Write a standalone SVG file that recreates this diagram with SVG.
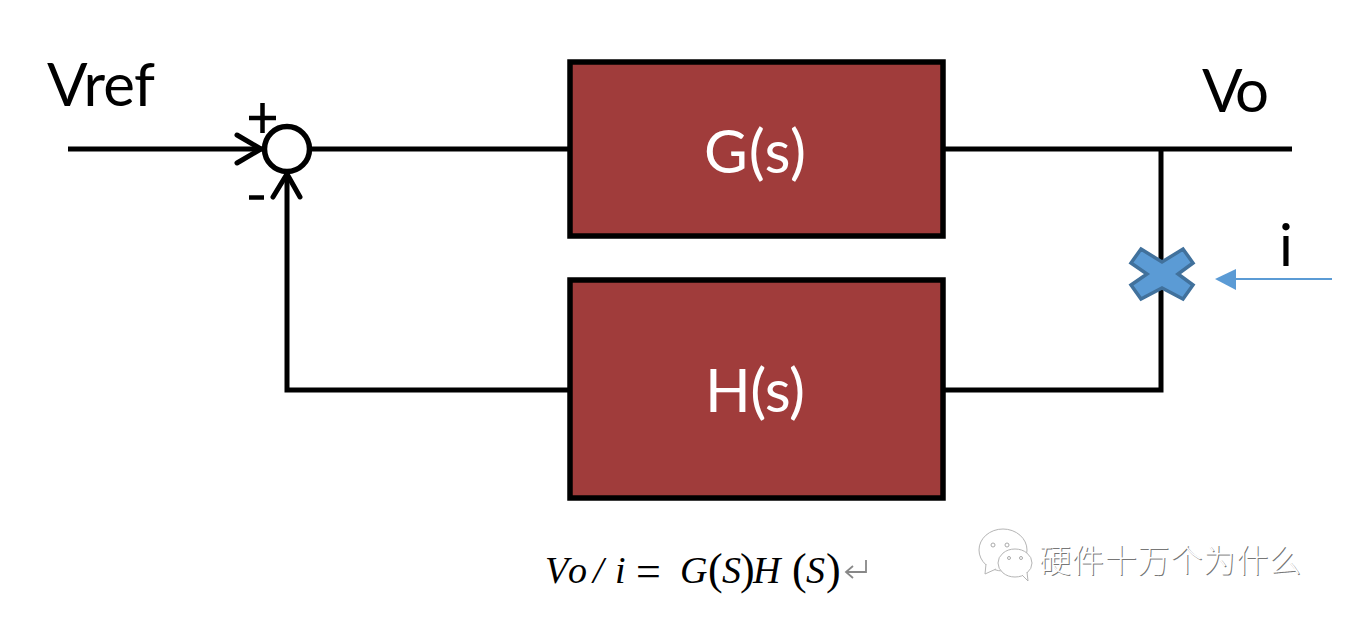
<svg xmlns="http://www.w3.org/2000/svg" width="1346" height="619" viewBox="0 0 1346 619">
<style>
.w{stroke:#000;stroke-width:5;fill:none}
.block{fill:#a03c3b;stroke:#000;stroke-width:5.5}
.t{font-family:"Lato","Open Sans",sans-serif;fill:#000}
.bt{font-family:"Lato","Open Sans",sans-serif;fill:#fff;font-size:60px;text-anchor:middle}
.m{font-family:"Liberation Serif",serif;font-style:italic;font-size:38px;fill:#000}
.p{font-family:"Liberation Serif",serif;font-size:44px;fill:#000}
.wm{font-family:"Noto Sans CJK SC",sans-serif;font-size:32px;font-weight:300}
.bub{fill:#fff;stroke:#b5b5b5;stroke-width:1}
</style>
<g id="connectors">
<path class="w" d="M68 149H262M311 149H570M943 149H1292M1161 149V390H943M570 390H287V176"/>
<path class="w" stroke-linecap="round" d="M237 135L261 149L237 163M273 197L287 174L300 197"/>
<path d="M1332 279H1232" stroke="#5b9bd5" stroke-width="2.2" fill="none"/>
<path d="M1215 279L1236 269V290Z" fill="#5b9bd5"/>
</g>
<g id="sum"><circle cx="287" cy="149" r="22.500" fill="#fff" stroke="#000" stroke-width="5.500"/>
<path d="M249 118H276M262.500 103V133" stroke="#000" stroke-width="4.500" fill="none"/>
<path d="M249 197.500H264" stroke="#000" stroke-width="4.500" fill="none"/></g>
<g id="g-block"><rect class="block" x="570" y="62" width="373" height="174"/><text class="bt" x="755" y="173" textLength="102">G(s)</text></g>
<g id="h-block"><rect class="block" x="570" y="280" width="373" height="218"/><text class="bt" x="755" y="412" textLength="100">H(s)</text></g>
<g id="cross"><path d="M1141 249L1162 262L1183 249L1193 263L1178 274L1193 285L1183 299L1162 288L1141 299L1131 285L1147 274L1131 263Z" fill="#5b9bd5" stroke="#41719c" stroke-width="3.500"/></g>
<g id="labels">
<text class="t" x="47" y="106" font-size="60" textLength="108">Vref</text>
<text class="t" x="1202" y="112" font-size="60" textLength="67">Vo</text>
<text class="t" x="1279" y="266" font-size="58">i</text>
</g>
<g id="formula">
<text class="m" y="583" x="545 568 593 615">Vo/i</text>
<text class="p" x="636" y="586" font-size="44">=</text>
<text class="m" y="583" x="680">G</text><text class="p" x="708" y="584">(</text><text class="m" y="583" x="722">S</text><text class="p" x="740" y="584">)</text>
<text class="m" y="583" x="753">H</text><text class="p" x="792" y="584">(</text><text class="m" y="583" x="806">S</text><text class="p" x="826" y="584">)</text>
<path d="M866 560V572H846M853 566L846 572L853 578" fill="none" stroke="#888" stroke-width="1.800"/></g>
<g id="watermark">
<ellipse class="bub" cx="1003" cy="550" rx="24" ry="21"/><path class="bub" d="M986 564L985 574L996 569"/>
<circle cx="993" cy="545" r="2" fill="none" stroke="#aaa"/><circle cx="1007" cy="545" r="2" fill="none" stroke="#aaa"/>
<ellipse class="bub" cx="1015" cy="563" rx="17" ry="14"/><path class="bub" d="M1022 575L1028 581L1027 572"/>
<circle cx="1009" cy="558" r="1.500" fill="none" stroke="#aaa"/><circle cx="1021" cy="558" r="1.500" fill="none" stroke="#aaa"/>
<text class="wm" x="1040" y="573" textLength="262" fill="#777">硬件十万个为什么</text>
<text class="wm" x="1039" y="572" textLength="262" fill="#fff">硬件十万个为什么</text>
</g>
</svg>
